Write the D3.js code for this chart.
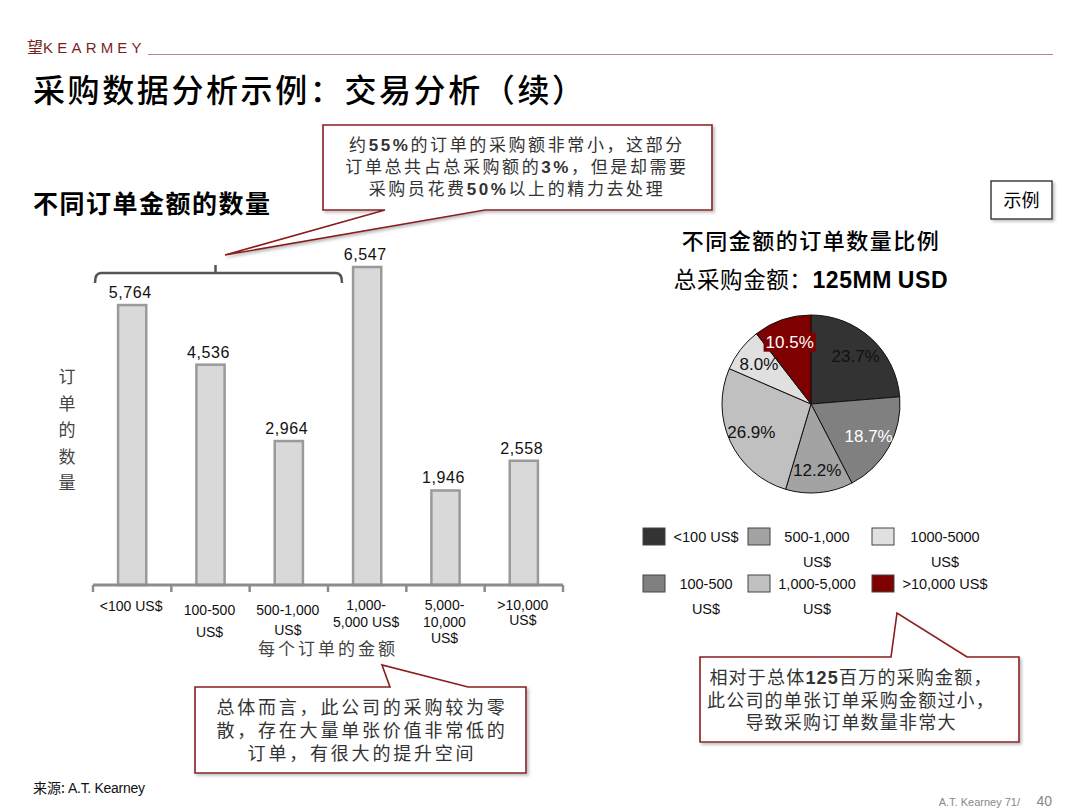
<!DOCTYPE html>
<html>
<head>
<meta charset="utf-8">
<script src="https://cdn.jsdelivr.net/npm/d3@7"></script>
<style>
body { margin: 0; background: #fff; }
svg { display: block; font-family: "Liberation Sans", Arial, sans-serif; }
.cn { font-family: "Noto Sans CJK SC", "Liberation Sans", sans-serif; }
</style>
</head>
<body>
<svg id="chart" width="1080" height="810"></svg>
<script>
// --- data ---
const categories = ["<100 US$", "100-500 US$", "500-1,000 US$", "1,000-5,000 US$", "5,000-10,000 US$", ">10,000 US$"];
const categoryLines = [["<100 US$"], ["100-500", "US$"], ["500-1,000", "US$"], ["1,000-", "5,000 US$"], ["5,000-", "10,000", "US$"], [">10,000", "US$"]];
const orderCounts = [5764, 4536, 2964, 6547, 1946, 2558];

const pieNames = ["<100 US$", "100-500 US$", "500-1,000 US$", "1,000-5,000 US$", "1000-5000 US$", ">10,000 US$"];
const pieShares = [23.7, 18.7, 12.2, 26.9, 8.0, 10.5];
const legendLines = [["<100 US$"], ["100-500", "US$"], ["500-1,000", "US$"], ["1,000-5,000", "US$"], ["1000-5000", "US$"], [">10,000 US$"]];

const topNote = ["约55%的订单的采购额非常小，这部分", "订单总共占总采购额的3%，但是却需要", "采购员花费50%以上的精力去处理"];
const leftNote = ["总体而言，此公司的采购较为零", "散，存在大量单张价值非常低的", "订单，有很大的提升空间"];
const rightNote = ["相对于总体125百万的采购金额，", "此公司的单张订单采购金额过小，", "导致采购订单数量非常大"];

// --- styles / layout ---
const pieColors = ["#333333", "#808080", "#a3a3a3", "#c0c0c0", "#e0e0e0", "#7f0000"];
const pieLabelColors = ["#111", "#fff", "#111", "#111", "#111", "#fff"];
const labelFirstY = [611, 615, 615, 610, 610, 610];
const labelLineH = [16, 22, 20, 17, 16.5, 15];
const red = "#8b1c1c";

const svg = d3.select("#chart");
const defs = svg.append("defs");
defs.append("filter").attr("id", "shadow").attr("x", "-10%").attr("y", "-10%").attr("width", "130%").attr("height", "140%")
  .append("feDropShadow").attr("dx", 2).attr("dy", 2).attr("stdDeviation", 1.5)
  .attr("flood-color", "#888").attr("flood-opacity", 0.55);

// mixed text: ascii runs bold latin, rest CJK
function rich(sel, str, cnSize, latinSize) {
  str.split(/([\x21-\x7e]+)/).filter(s => s.length).forEach(part => {
    const ascii = /^[\x21-\x7e]+$/.test(part);
    sel.append("tspan")
      .attr("font-family", ascii ? "'Liberation Sans', Arial, sans-serif" : "'Noto Sans CJK SC', sans-serif")
      .attr("font-weight", ascii ? "bold" : null)
      .attr("font-size", ascii ? latinSize : cnSize)
      .text(part);
  });
}

// --- header ---
const hdr = svg.append("text").attr("x", 27).attr("y", 53).attr("fill", "#7a1f1f");
hdr.append("tspan").attr("class", "cn").attr("font-size", 16).text("望");
hdr.append("tspan").attr("font-size", 15).attr("letter-spacing", 4.2).text("KEARMEY");
svg.append("line").attr("x1", 148).attr("x2", 1053).attr("y1", 54.5).attr("y2", 54.5)
  .attr("stroke", "#b98585").attr("stroke-width", 1);

svg.append("text").attr("class", "cn").attr("x", 33).attr("y", 102)
  .attr("font-size", 32).attr("letter-spacing", 2.6).attr("font-weight", 500).attr("fill", "#000")
  .text("采购数据分析示例：交易分析（续）");

svg.append("text").attr("class", "cn").attr("x", 33).attr("y", 213)
  .attr("font-size", 25).attr("font-weight", "bold").attr("letter-spacing", 1.5)
  .text("不同订单金额的数量");

// --- bar chart ---
const x = d3.scaleBand().domain(categories).range([93, 563]).padding(0);
const y = d3.scaleLinear().domain([0, 6547]).range([585, 267]);
const barW = x.bandwidth() * 0.36;

const bars = svg.append("g");
bars.selectAll("rect").data(orderCounts).join("rect")
  .attr("x", (d, i) => x(categories[i]) + (x.bandwidth() - barW) / 2)
  .attr("y", d => y(d))
  .attr("width", barW)
  .attr("height", d => y(0) - y(d))
  .attr("fill", "#d9d9d9")
  .attr("stroke", "#9a9a9a")
  .attr("stroke-width", 2.5);

bars.selectAll("text.val").data(orderCounts).join("text").attr("class", "val")
  .attr("x", (d, i) => x(categories[i]) + x.bandwidth() / 2 - 2)
  .attr("y", d => y(d) - 7)
  .attr("text-anchor", "middle").attr("font-size", 16).attr("letter-spacing", 0.6).attr("fill", "#111")
  .text(d => d3.format(",")(d));

// axis line with boundary ticks
const axisG = svg.append("g");
axisG.append("line").attr("x1", 93).attr("x2", 563).attr("y1", y(0)).attr("y2", y(0))
  .attr("stroke", "#8c8c8c").attr("stroke-width", 3);
const bounds = categories.map(c => x(c)).concat([x(categories[categories.length - 1]) + x.bandwidth()]);
axisG.selectAll("line.tk").data(bounds).join("line").attr("class", "tk")
  .attr("x1", d => d).attr("x2", d => d).attr("y1", y(0)).attr("y2", y(0) + 7)
  .attr("stroke", "#8c8c8c").attr("stroke-width", 2.5);

categoryLines.forEach((lines, i) => {
  const t = svg.append("text").attr("text-anchor", "middle").attr("font-size", 14).attr("fill", "#111");
  lines.forEach((ln, j) => {
    t.append("tspan").attr("x", x(categories[i]) + x.bandwidth() / 2 - 1)
      .attr("y", labelFirstY[i] + j * labelLineH[i]).text(ln);
  });
});

svg.append("text").attr("class", "cn").attr("x", 328).attr("y", 655)
  .attr("text-anchor", "middle").attr("font-size", 17).attr("letter-spacing", 3).attr("fill", "#444")
  .text("每个订单的金额");

const yl = svg.append("text").attr("class", "cn").attr("text-anchor", "middle").attr("font-size", 17).attr("fill", "#444");
"订单的数量".split("").forEach((ch, i) => {
  yl.append("tspan").attr("x", 67).attr("y", 383 + i * 26.5).text(ch);
});

// brace over the first three categories
const bx0 = x(categories[0]) + 2, bx1 = x(categories[3]) + 14, by = 273, bmid = (bx0 + bx1) / 2 - 3;
svg.append("path")
  .attr("d", `M${bx0},${by + 10} Q${bx0},${by} ${bx0 + 6},${by} H${bx1 - 6} Q${bx1},${by} ${bx1},${by + 10} M${bmid},${by} V${by - 8}`)
  .attr("fill", "none").attr("stroke", "#555").attr("stroke-width", 2.5);

// --- callouts ---
function callout(d, lines, cx, y0, lh, size, ls) {
  svg.append("path").attr("d", d).attr("fill", "#fff").attr("stroke", red)
    .attr("stroke-width", 1.6).attr("filter", "url(#shadow)");
  lines.forEach((ln, i) => {
    const t = svg.append("text").attr("x", cx).attr("y", y0 + i * lh)
      .attr("text-anchor", "middle").attr("fill", "#333").attr("letter-spacing", ls);
    rich(t, ln, size, size);
  });
}
callout("M323,125 H712 V210 H485 L225,255 L385,210 H323 Z", topNote, 517, 151, 22, 17, 2.6);
callout("M195,687 H390 L382,665 L468,687 H526 V773 H195 Z", leftNote, 362, 714, 23, 18, 2.8);
callout("M700,657 H891 L897,613 L967,657 H1019 V742 H700 Z", rightNote, 851, 684, 22.5, 18, 1.2);

// 示例 tag
svg.append("rect").attr("x", 991).attr("y", 181).attr("width", 61).attr("height", 38)
  .attr("fill", "#fff").attr("stroke", "#222").attr("stroke-width", 1.3).attr("filter", "url(#shadow)");
svg.append("text").attr("class", "cn").attr("x", 1021.5).attr("y", 207).attr("text-anchor", "middle")
  .attr("font-size", 18).text("示例");

// --- pie ---
svg.append("text").attr("class", "cn").attr("x", 811).attr("y", 249).attr("text-anchor", "middle")
  .attr("font-size", 22).attr("letter-spacing", 1.5).attr("font-weight", 500).text("不同金额的订单数量比例");
const sub = svg.append("text").attr("x", 811).attr("y", 288).attr("text-anchor", "middle").attr("letter-spacing", 0.6);
rich(sub, "总采购金额：", 22.5, 22.5);
rich(sub, "125MM USD", 22.5, 23);

const cx = 811, cy = 404, R = 89;
const pie = d3.pie().sort(null).value(d => d)(pieShares);
const arc = d3.arc().innerRadius(0).outerRadius(R);
const labelArc = d3.arc().innerRadius(R * 0.74).outerRadius(R * 0.74);
const pg = svg.append("g").attr("transform", `translate(${cx},${cy})`);
pg.selectAll("path").data(pie).join("path")
  .attr("d", arc).attr("fill", (d, i) => pieColors[i])
  .attr("stroke", "#111").attr("stroke-width", 1);
pg.selectAll("text").data(pie).join("text")
  .attr("x", d => labelArc.centroid(d)[0])
  .attr("y", d => labelArc.centroid(d)[1] + 6)
  .attr("text-anchor", "middle").attr("font-size", 17)
  .attr("fill", (d, i) => pieLabelColors[i])
  .text(d => d.data.toFixed(1) + "%")
  .each(function (d, i) {
    if (i === pieShares.length - 1) {
      const b = this.getBBox();
      d3.select(this.parentNode).insert("rect", "text")
        .attr("x", b.x - 2).attr("y", b.y).attr("width", b.width + 4).attr("height", b.height)
        .attr("fill", pieColors[i]);
    }
  });

// legend (two rows, column-major)
const colX = [643, 748, 872], rowY = [528, 575], areaW = [72, 84, 92];
const lg = svg.append("g");
pieNames.forEach((name, i) => {
  const c = Math.floor(i / 2), r = i % 2;
  lg.append("rect").attr("x", colX[c]).attr("y", rowY[r]).attr("width", 22).attr("height", 17)
    .attr("fill", pieColors[i]).attr("stroke", "#444").attr("stroke-width", 1);
  const t = lg.append("text").attr("text-anchor", "middle").attr("font-size", 14.5).attr("fill", "#111");
  legendLines[i].forEach((ln, j) => {
    t.append("tspan").attr("x", colX[c] + 27 + areaW[c] / 2).attr("y", rowY[r] + 14 + j * 25).text(ln);
  });
});

// --- footer ---
const src = svg.append("text").attr("x", 33).attr("y", 793).attr("fill", "#111");
src.append("tspan").attr("class", "cn").attr("font-size", 14).text("来源: ");
src.append("tspan").attr("font-size", 14).attr("letter-spacing", -0.3).text("A.T. Kearney");
svg.append("text").attr("x", 1020).attr("y", 806).attr("text-anchor", "end").attr("font-size", 11)
  .attr("fill", "#888").text("A.T.  Kearney 71/");
svg.append("text").attr("x", 1052).attr("y", 806).attr("text-anchor", "end").attr("font-size", 14)
  .attr("fill", "#888").text("40");
</script>
</body>
</html>
